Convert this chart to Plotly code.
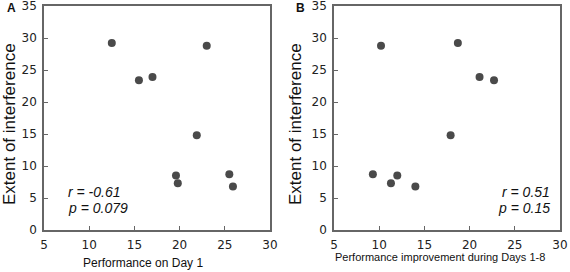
import plotly.graph_objects as go

# Panel A: performance on day 1 vs extent of interference
perf_day1 = [12.5, 15.5, 17.0, 23.0, 21.9, 19.6, 19.8, 25.5, 25.9]
interference = [29.2, 23.4, 23.9, 28.8, 14.8, 8.5, 7.3, 8.7, 6.8]
# Panel B: performance improvement days 1-8 vs extent of interference
improvement = [18.7, 22.7, 21.1, 10.2, 17.9, 12.0, 11.3, 9.3, 14.0]

x_ticks = [5, 10, 15, 20, 25, 30]
y_ticks = [0, 5, 10, 15, 20, 25, 30, 35]

W, H = 570, 272
ml, mr, mt, mb = 44, 10, 6, 42
pw = W - ml - mr
dA = [0, (270 - ml) / pw]
dB = [(334 - ml) / pw, (560 - ml) / pw]

marker = dict(size=8, color="#4a4a4a")
fig = go.Figure()
fig.add_trace(go.Scatter(x=perf_day1, y=interference, mode="markers", marker=marker,
                         xaxis="x", yaxis="y", showlegend=False))
fig.add_trace(go.Scatter(x=improvement, y=interference, mode="markers", marker=marker,
                         xaxis="x2", yaxis="y2", showlegend=False))

axcommon = dict(showgrid=False, zeroline=False, showline=True, linecolor="#666666",
                linewidth=1.5, mirror=True, ticks="inside", ticklen=4, tickcolor="#666666",
                tickwidth=1.2, ticklabelstandoff=3, ticklabeloverflow="allow",
                tickfont=dict(family="DejaVu Sans", size=12, color="#222222"))
fig.update_layout(
    width=W, height=H, margin=dict(l=ml, r=mr, t=mt, b=mb, autoexpand=False),
    paper_bgcolor="white", plot_bgcolor="white",
    xaxis=dict(domain=dA, range=[5, 30], tickvals=x_ticks, anchor="y", **axcommon),
    yaxis=dict(domain=[0, 1], range=[0, 35], tickvals=y_ticks, anchor="x", **axcommon),
    xaxis2=dict(domain=dB, range=[5, 30], tickvals=x_ticks, anchor="y2", **axcommon),
    yaxis2=dict(domain=[0, 1], range=[0, 35], tickvals=y_ticks, anchor="x2", **axcommon),
)

tf = "Liberation Sans"
ann = [
    dict(text="<b>A</b>", x=11, y=8, font=dict(size=12)),
    dict(text="<b>B</b>", x=300, y=8, font=dict(size=12)),
    dict(text="Extent of interference", x=9, y=124, textangle=-90, font=dict(size=17)),
    dict(text="Extent of interference", x=295, y=124, textangle=-90, font=dict(size=17)),
    dict(text="Performance on Day 1", x=143, y=263, font=dict(size=12)),
    dict(text="Performance improvement during Days 1-8", x=440, y=257, font=dict(size=11)),
    dict(text="<i>r = -0.61</i>", x=66, y=192, xanchor="left", font=dict(size=14)),
    dict(text="<i>p = 0.079</i>", x=66, y=208, xanchor="left", font=dict(size=14)),
    dict(text="<i>r = 0.51</i>", x=552, y=192, xanchor="right", font=dict(size=14)),
    dict(text="<i>p = 0.15</i>", x=552, y=208, xanchor="right", font=dict(size=14)),
]
annotations = []
for a in ann:
    f = dict(family=tf, color="#111111")
    f.update(a.pop("font"))
    d = dict(xref="paper", yref="paper", showarrow=False, font=f,
             xanchor=a.pop("xanchor", "center"), yanchor="middle")
    d["x"] = (a.pop("x") - ml) / pw
    d["y"] = (H - mb - a.pop("y")) / (H - mt - mb)
    d.update(a)
    annotations.append(d)
fig.update_layout(annotations=annotations)

fig.write_html("out.html", config={"displayModeBar": False},
               post_script="document.body.style.margin='0';document.body.style.padding='0';")
